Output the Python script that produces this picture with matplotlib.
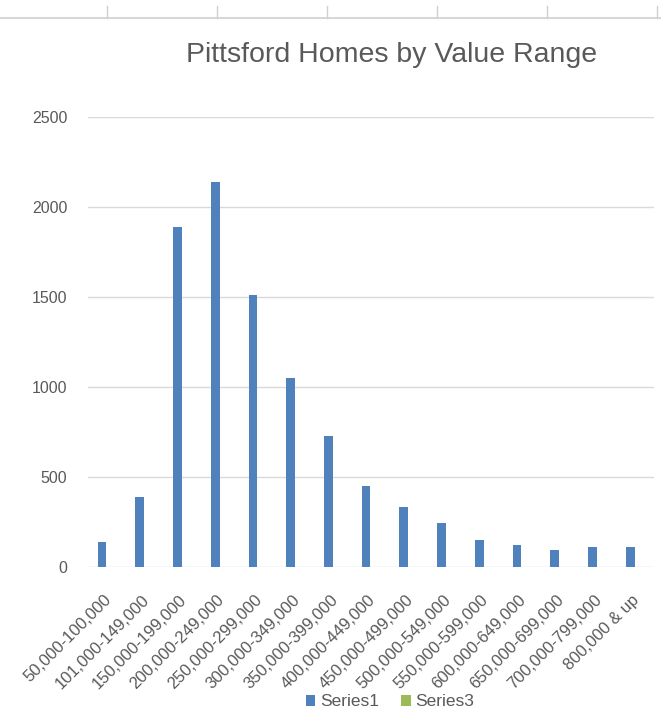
import matplotlib
matplotlib.use('Agg')
import matplotlib.pyplot as plt
import numpy as np
from matplotlib.lines import Line2D

# Data
categories = ['50,000-100,000', '101,000-149,000', '150,000-199,000',
              '200,000-249,000', '250,000-299,000', '300,000-349,000',
              '350,000-399,000', '400,000-449,000', '450,000-499,000',
              '500,000-549,000', '550,000-599,000', '600,000-649,000',
              '650,000-699,000', '700,000-799,000', '800,000 & up']
series1 = [140, 390, 1890, 2140, 1510, 1050, 725, 447, 332, 244, 148, 120, 92, 108, 108]
series3 = [0] * len(categories)
y_ticks = [0, 500, 1000, 1500, 2000, 2500]

TEXT = '#595959'
GRID = '#d9d9d9'
FONT = 'Liberation Sans'

fig = plt.figure(figsize=(6.61, 7.09), dpi=100)
ax = fig.add_axes([88 / 661, 1 - 566.7 / 709, 566 / 661, (566.7 - 117.2) / 709])

x = np.arange(len(categories))
ax.bar(x - 0.13, series1, width=0.23, color='#4f81bd', label='Series1', zorder=3)
ax.bar(x + 0.11, series3, width=0.23, color='#9bbb59', label='Series3', zorder=3)

ax.set_xlim(-0.5, len(categories) - 0.5)
ax.set_ylim(0, 2500)
ax.set_yticks(y_ticks)
ax.set_yticklabels([str(v) for v in y_ticks], fontsize=11.5, color=TEXT, family=FONT)
ax.yaxis.grid(True, color=GRID, linewidth=1.0, zorder=0)
ax.tick_params(axis='both', length=0)
ax.tick_params(axis='y', pad=15)
for s in ax.spines.values():
    s.set_visible(False)

ax.set_xticks(x + 0.05)
ax.set_xticklabels(categories, rotation=45, ha='right', va='center',
                   rotation_mode='anchor', fontsize=12, color=TEXT, family=FONT)
ax.tick_params(axis='x', pad=22)

fig.text(392 / 661, 1 - 55 / 709, 'Pittsford Homes by Value Range', ha='center',
         va='center', fontsize=20.5, color=TEXT, family=FONT)

leg = fig.legend(loc='center', bbox_to_anchor=(390 / 661, 1 - 702 / 709), ncol=2,
                 frameon=False, fontsize=12.5, handlelength=0.55, handleheight=0.55,
                 handletextpad=0.25, columnspacing=1.3, borderaxespad=0)
for t in leg.get_texts():
    t.set_color(TEXT)
    t.set_family(FONT)

# spreadsheet column header strip at the top
fig.add_artist(Line2D([0, 1], [1 - 18 / 709] * 2, color='#d0d0d0', linewidth=1.2))
for cx in [107, 217, 327, 437, 547, 657]:
    fig.add_artist(Line2D([cx / 661] * 2, [1 - 6 / 709, 1 - 18 / 709],
                          color='#d0d0d0', linewidth=1.0))

fig.savefig('out.png', dpi=100)
